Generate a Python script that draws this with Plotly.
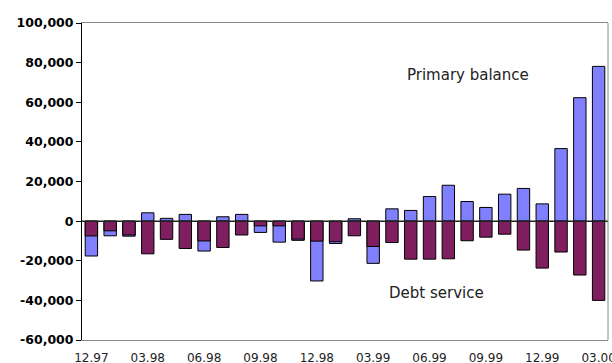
import plotly.graph_objects as go

months = ["12.97",
          "01.98", "02.98", "03.98", "04.98", "05.98", "06.98", "07.98", "08.98", "09.98", "10.98", "11.98", "12.98",
          "01.99", "02.99", "03.99", "04.99", "05.99", "06.99", "07.99", "08.99", "09.99", "10.99", "11.99", "12.99",
          "01.00", "02.00", "03.00"]

primary_balance = [-17600, -7400, -7600, 4200, 1400, 3400, -15100, 2200, 3400, -5700, -10600, -9700, -30200,
                   -11300, 1200, -21300, 6200, 5400, 12400, 18100, 9900, 6900, 13600, 16500, 8700,
                   36600, 62300, 78100]

debt_service = [-7500, -4900, -7000, -16500, -9200, -13800, -10000, -13300, -7000, -2400, -2400, -9100, -10100,
                -10400, -7400, -12800, -10800, -19200, -19200, -19000, -9900, -8100, -6600, -14600, -23700,
                -15600, -27200, -40000]

tick_labels = ["12.97", "03.98", "06.98", "09.98", "12.98", "03.99", "06.99", "09.99", "12.99", "03.00"]
y_ticks = [-60000, -40000, -20000, 0, 20000, 40000, 60000, 80000, 100000]

fig = go.Figure()
fig.add_trace(go.Bar(x=months, y=primary_balance, name="Primary balance", width=0.66,
                     marker=dict(color="#8080FF", line=dict(color="#000000", width=1))))
fig.add_trace(go.Bar(x=months, y=debt_service, name="Debt service", width=0.66,
                     marker=dict(color="#7F1F5F", line=dict(color="#000000", width=1))))

fig.update_layout(
    width=612, height=363,
    margin=dict(l=82, r=4, t=23, b=23),
    barmode="overlay",
    showlegend=False,
    plot_bgcolor="white", paper_bgcolor="white",
    font=dict(family="DejaVu Sans", color="#000000"),
    xaxis=dict(
        type="category",
        tickmode="array", tickvals=tick_labels, ticktext=tick_labels,
        showgrid=False, zeroline=False,
        showline=True, linecolor="#8a8a8a", linewidth=1, mirror=True,
        ticks="", tickfont=dict(size=12, family="DejaVu Sans", color="#222222"),
        ticklabelstandoff=7, automargin=False,
    ),
    yaxis=dict(
        range=[-60000, 100000],
        tickmode="array", tickvals=y_ticks,
        ticktext=[f"{v:,}" for v in y_ticks],
        showgrid=False, zeroline=False,
        showline=True, linecolor="#000000", linewidth=1,
        ticks="outside", ticklen=5, tickcolor="#000000",
        tickfont=dict(size=12.5, family="DejaVu Sans", weight="bold", color="#000000"),
        automargin=False,
    ),
    shapes=[
        dict(type="line", xref="paper", yref="y", x0=0, x1=1, y0=0, y1=0,
             line=dict(color="#222222", width=1.5), layer="above"),
        dict(type="line", xref="paper", yref="paper", x0=1, x1=1, y0=0, y1=1,
             line=dict(color="#8a8a8a", width=1), layer="above"),
    ],
    annotations=[
        dict(text="Primary balance", xref="paper", yref="y", x=0.614, y=74000,
             xanchor="left", yanchor="middle", showarrow=False,
             font=dict(size=15, family="DejaVu Sans", color="#222222")),
        dict(text="Debt service", xref="paper", yref="y", x=0.58, y=-36300,
             xanchor="left", yanchor="middle", showarrow=False,
             font=dict(size=15, family="DejaVu Sans", color="#222222")),
    ],
)

fig.write_html("out.html", config={"displayModeBar": False},
               post_script="document.body.style.margin='0';")
